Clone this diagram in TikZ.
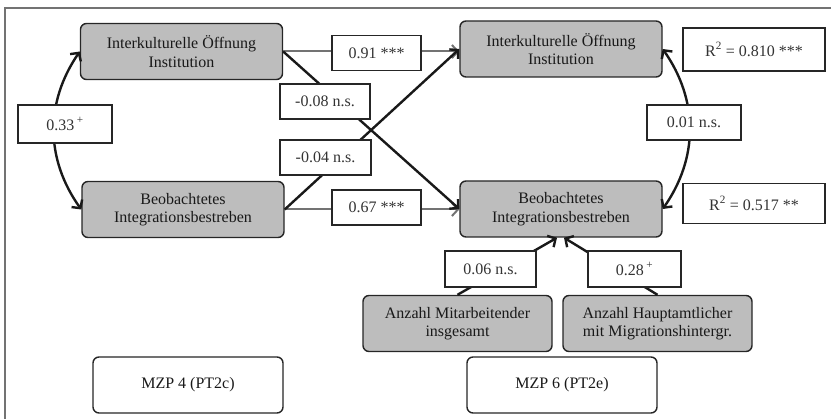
\documentclass[tikz,border=0pt]{standalone}
\usepackage{fontspec}
\setmainfont{Liberation Serif}
\usetikzlibrary{arrows.meta, positioning}

\begin{document}
\begin{tikzpicture}[
        x=1pt, y=-1pt,
        font=\fontsize{16}{18.5}\selectfont,
        var/.style={rectangle, rounded corners=6pt, draw=black!85, line width=1.4pt, fill=black!26, text=black!90, align=center, inner sep=0pt, minimum width=202pt, minimum height=56pt},
        wave/.style={rectangle, rounded corners=6pt, draw=black!85, line width=1.4pt, fill=white, text=black!90, inner sep=0pt, minimum width=190pt, minimum height=56pt},
        lbl/.style={rectangle, draw=black!85, line width=1.3pt, fill=white, text=black!80, inner sep=0pt, minimum height=35pt},
        eff/.style={-{Straight Barb[length=6pt, width=13pt]}, line width=2.4pt, black!90},
        geff/.style={-{Straight Barb[length=6pt, width=13pt]}, line width=2pt, black!55},
        cor/.style={{Straight Barb[length=6pt, width=13pt]}-{Straight Barb[length=6pt, width=13pt]}, line width=2.4pt, black!90}
    ]
        \useasboundingbox (0,0) rectangle (831,419);
        \draw[black!55, line width=2pt] (5,419) -- (5,8) -- (831,8);

        \node[var] (inst4)  at (181.5,51.5) {Interkulturelle Öffnung\\Institution};
        \node[var] (integ4) at (183,209.5)  {Beobachtetes\\Integrationsbestreben};
        \node[var] (inst6)  at (561,49)     {Interkulturelle Öffnung\\Institution};
        \node[var] (integ6) at (561,209)    {Beobachtetes\\Integrationsbestreben};
        \node[var, minimum width=189pt] (mitarb) at (457.5,323.5) {Anzahl Mitarbeitender\\insgesamt};
        \node[var, minimum width=189pt] (haupt)  at (657.5,323.5) {Anzahl Hauptamtlicher\\mit Migrationshintergr.};
        \node[wave] (mzp4) at (188,385) {MZP 4 (PT2c)};
        \node[wave] (mzp6) at (562,385) {MZP 6 (PT2e)};

        \draw[geff] (inst4.east)  -- (inst4.east -| inst6.west);
        \draw[geff] (integ4.east) -- (integ4.east -| integ6.west);
        \draw[eff]  (inst4.east)  -- (integ6.west);
        \draw[eff]  (integ4.east) -- (inst6.west);
        \draw[cor]  (inst4.west) to[bend right=35] (integ4.west);
        \draw[cor]  (inst6.east) to[bend left=35] (integ6.east);
        \draw[eff]  (mitarb.north) -- ([xshift=-4pt]integ6.south);
        \draw[eff]  (haupt.north)  -- ([xshift=3pt]integ6.south);

        \node[lbl, minimum width=89pt] (b091) at (376.5,53)    {0.91 ***};
        \node[lbl, minimum width=90pt] (b008) at (325,101.5)   {-0.08 n.s.};
        \node[lbl, minimum width=91pt] (b004) at (325.5,157.5) {-0.04 n.s.};
        \node[lbl, minimum width=89pt] (b067) at (376.5,207.5) {0.67 ***};
        \node[lbl, minimum width=94pt, minimum height=38pt] (b033) at (65,124) {0.33\,\textsuperscript{+}};
        \node[lbl, minimum width=94pt] (b001) at (694,122.5) {0.01 n.s.};
        \node[lbl, minimum width=142pt, minimum height=43pt] (r2a) at (754,49.5)  {R\textsuperscript{2} = 0.810 ***};
        \node[lbl, minimum width=142pt, minimum height=40pt] (r2b) at (754,203.5) {R\textsuperscript{2} = 0.517 **};
        \node[lbl, minimum width=91pt, minimum height=36pt] (b006) at (490.5,269) {0.06 n.s.};
        \node[lbl, minimum width=93pt, minimum height=36pt] (b028) at (634.5,269) {0.28\,\textsuperscript{+}};
    \end{tikzpicture}
\end{document}
